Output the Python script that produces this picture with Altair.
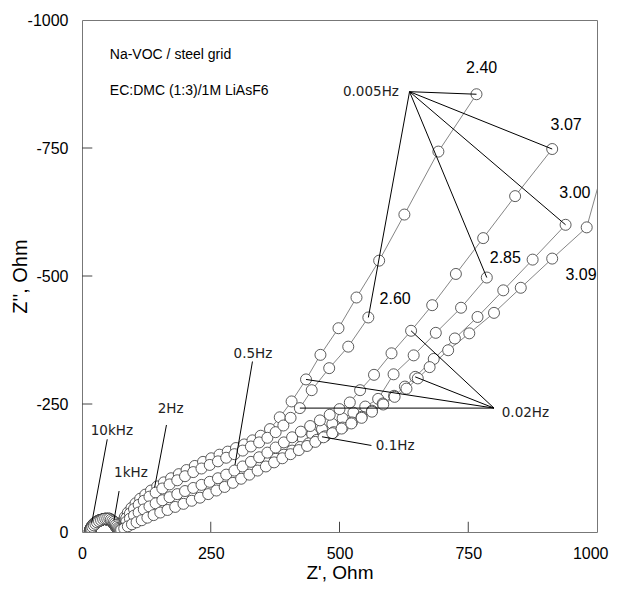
import altair as alt
import pandas as pd

# ---------------- data ----------------
SERIES = ["2.40", "2.60", "2.85", "3.00", "3.07", "3.09"]

# high-frequency arcs (10 kHz ... 1 kHz), two slightly different traces
HF_A_ZR = [15, 16, 17, 19, 21, 24, 27, 30, 34, 38, 42, 46, 50, 54, 57, 60, 62, 64, 66, 68, 70, 72]
HF_A_ZIM = [-2, -5, -8, -11, -14, -17, -19, -21, -23, -24, -25, -25, -24, -23, -21, -19, -16, -13, -10,
            -8, -6, -5]
HF_B_ZR = [16, 17, 18, 20, 23, 26, 29, 33, 37, 41, 45, 49, 53, 56, 59, 62, 64, 66, 68, 70, 72, 74]
HF_B_ZIM = [-1, -4, -7, -10, -13, -16, -19, -21, -23, -25, -26, -26, -26, -24, -22, -20, -17, -14, -11,
            -8, -6, -4]

ZR_240 = [74, 78, 83, 89, 96, 104, 113, 123, 134, 146, 159, 173, 188, 203, 219, 235, 251, 267, 283, 299,
          315, 331, 347, 365, 384, 407, 435, 463, 498, 533, 577, 626, 692, 766]
ZIM_240 = [-12, -20, -29, -38, -47, -56, -65, -73, -81, -89, -97, -105, -113, -121, -129, -137, -144, -151,
           -157, -164, -171, -179, -188, -201, -224, -255, -298, -346, -398, -458, -530, -620, -743, -855]

ZR_260 = [75, 80, 86, 93, 101, 110, 120, 131, 143, 156, 170, 185, 200, 216, 232, 248, 264, 280, 296, 312,
          328, 344, 360, 376, 391, 405, 423, 446, 480, 517, 556]
ZIM_260 = [-10, -18, -27, -36, -45, -53, -61, -69, -77, -85, -93, -101, -109, -117, -124, -131, -138, -145,
           -152, -159, -167, -175, -184, -195, -208, -223, -242, -277, -320, -362, -419]

ZR_285 = [75, 80, 86, 93, 101, 110, 120, 131, 143, 156, 170, 185, 200, 216, 232, 248, 264, 280, 296, 312,
          328, 344, 360, 377, 394, 411, 429, 447, 466, 486, 506, 527, 550, 575, 605, 644, 687, 736, 786]
ZIM_285 = [-6, -11, -16, -21, -26, -31, -36, -42, -48, -54, -60, -66, -72, -78, -84, -90, -97, -104, -112,
           -120, -128, -137, -146, -155, -164, -173, -182, -191, -201, -211, -222, -233, -245, -260, -308,
           -345, -389, -438, -497]

ZR_300 = [75, 80, 86, 93, 101, 110, 120, 131, 143, 156, 170, 185, 200, 216, 232, 248, 264, 280, 296, 312,
          328, 344, 360, 376, 392, 408, 424, 440, 456, 472, 489, 506, 524, 543, 563, 584, 606, 627, 647,
          683, 724, 768, 818, 875, 939]
ZIM_300 = [-5, -9, -13, -18, -23, -28, -33, -38, -43, -48, -54, -60, -66, -72, -78, -84, -90, -97, -104,
           -111, -119, -127, -135, -143, -151, -159, -166, -173, -180, -187, -195, -204, -214, -225, -237,
           -251, -266, -284, -303, -338, -378, -420, -472, -532, -600]

ZR_307 = [75, 80, 86, 93, 101, 110, 120, 131, 143, 156, 170, 185, 200, 216, 232, 248, 264, 280, 296, 312,
          328, 344, 360, 376, 392, 408, 425, 443, 462, 481, 500, 520, 540, 567, 601, 639, 680, 726, 779,
          841, 913]
ZIM_307 = [-8, -14, -20, -26, -32, -38, -44, -50, -56, -62, -68, -74, -80, -86, -92, -98, -105, -112, -120,
           -128, -137, -146, -155, -165, -175, -185, -196, -207, -218, -229, -240, -253, -277, -307, -349,
           -393, -443, -504, -574, -656, -748]

ZR_309 = [76, 82, 89, 97, 106, 116, 127, 139, 152, 166, 181, 197, 213, 229, 245, 261, 277, 293, 309, 325,
          341, 357, 373, 389, 405, 421, 437, 453, 469, 486, 504, 523, 543, 563, 585, 607, 630, 652, 675,
          711, 752, 800, 852, 913, 980, 1020]
ZIM_309 = [-4, -7, -11, -15, -19, -23, -28, -33, -38, -43, -49, -55, -61, -67, -74, -81, -88, -96, -104,
           -112, -120, -128, -136, -144, -152, -160, -168, -176, -185, -193, -202, -212, -223, -235, -249,
           -264, -280, -300, -322, -355, -388, -428, -477, -534, -595, -740]

# series labels
LABEL_TEXT = ["2.40", "3.07", "3.00", "2.85", "3.09", "2.60"]
LABEL_ZR = [776, 940, 957, 822, 969, 608]
LABEL_ZIM = [-906, -795, -663, -535, -502, -456]

# frequency labels
FREQ_TEXT = ["0.005Hz", "0.02Hz", "0.1Hz", "0.5Hz", "2Hz", "1kHz", "10kHz"]
FREQ_ZR = [561, 861, 608, 332, 172, 95, 58]
FREQ_ZIM = [-860, -232, -167, -348, -240, -116, -198]

# leader lines (from label to point)
LEAD_ZR = [636, 636, 636, 636, 636, 800, 800, 800, 800, 562, 331, 164, 72, 49]
LEAD_ZIM = [-860, -860, -860, -860, -860, -242, -242, -242, -242, -169, -333, -209, -80, -181]
LEAD_ZR2 = [766, 913, 939, 786, 556, 639, 647, 435, 423, 466, 297, 141, 62, 19]
LEAD_ZIM2 = [-855, -748, -600, -497, -419, -393, -303, -298, -242, -186, -131, -87, -22, -18]

# annotations
NOTE_TEXT = ["Na-VOC / steel grid", "EC:DMC (1:3)/1M LiAsF6"]
NOTE_ZR = [54, 54]
NOTE_ZIM = [-932, -862]

X_TICKS = [250, 500, 750]
Y_TICKS = [-250, -500, -750]
TICK_LEN = 20

# ---------------- tables ----------------
rows = []
for name, hz, hy, zr, zim in zip(
        SERIES,
        [HF_A_ZR, HF_B_ZR, HF_A_ZR, HF_B_ZR, HF_A_ZR, HF_B_ZR],
        [HF_A_ZIM, HF_B_ZIM, HF_A_ZIM, HF_B_ZIM, HF_A_ZIM, HF_B_ZIM],
        [ZR_240, ZR_260, ZR_285, ZR_300, ZR_307, ZR_309],
        [ZIM_240, ZIM_260, ZIM_285, ZIM_300, ZIM_307, ZIM_309]):
    xs = hz + zr
    ys = hy + zim
    for i, (a, b) in enumerate(zip(xs, ys)):
        rows.append({"series": name, "i": i, "zr": a, "zim": b})
pts = pd.DataFrame(rows)

labels = pd.DataFrame({"t": LABEL_TEXT, "zr": LABEL_ZR, "zim": LABEL_ZIM})
freqs = pd.DataFrame({"t": FREQ_TEXT, "zr": FREQ_ZR, "zim": FREQ_ZIM})
leads = pd.DataFrame({"zr": LEAD_ZR, "zim": LEAD_ZIM, "zr2": LEAD_ZR2, "zim2": LEAD_ZIM2})
notes = pd.DataFrame({"t": NOTE_TEXT, "zr": NOTE_ZR, "zim": NOTE_ZIM})
xt = pd.DataFrame({"v": X_TICKS, "a": [0] * 3, "b": [-TICK_LEN] * 3})
yt = pd.DataFrame({"v": Y_TICKS, "a": [0] * 3, "b": [TICK_LEN] * 3})

xscale = alt.Scale(domain=[0, 1000], nice=False, zero=False)
yscale = alt.Scale(domain=[-1000, 0], nice=False, zero=False, reverse=True)

FONT = "Liberation Sans"

xaxis = alt.Axis(values=[0, 250, 500, 750, 1000], ticks=False, domain=False, grid=False,
                 labelFont=FONT, labelFontSize=16, labelColor="black", labelPadding=13,
                 labelFlush=False, labelOverlap=False, format="d",
                 labelAlign=alt.ExprRef(expr="datum.value == 1000 ? 'right' : 'center'"),
                 labelOffset=alt.ExprRef(expr="datum.value == 1000 ? 11 : 0"),
                 title="Z', Ohm", titleFont=FONT, titleFontSize=19, titleFontWeight="normal",
                 titleColor="black", titleX=257.5, titleY=40, titleBaseline="middle")
yaxis = alt.Axis(values=[-1000, -750, -500, -250, 0], ticks=False, domain=False, grid=False,
                 labelFont=FONT, labelFontSize=16, labelColor="black", labelPadding=14,
                 labelFlush=False, labelOverlap=False,
                 labelExpr="datum.value == 0 ? '0' : '-' + format(abs(datum.value), 'd')",
                 title="Z'', Ohm", titleFont=FONT, titleFontSize=20, titleFontWeight="normal",
                 titleColor="black", titleX=-62, titleY=256, titleBaseline="middle", titleAngle=270)

X = alt.X("zr:Q", scale=xscale, axis=xaxis)
Y = alt.Y("zim:Q", scale=yscale, axis=yaxis)

lines = alt.Chart(pts).mark_line(clip=True, color="#666", strokeWidth=0.8).encode(
    x=X, y=Y, detail="series:N", order="i:Q")
circles = alt.Chart(pts).mark_circle(clip=True, fill="white", stroke="#333", strokeWidth=0.8,
                                     size=121, opacity=1).encode(
    x=alt.X("zr:Q", scale=xscale), y=alt.Y("zim:Q", scale=yscale), detail="series:N")

lead = alt.Chart(leads).mark_rule(color="black", strokeWidth=1).encode(
    x=alt.X("zr:Q", scale=xscale), y=alt.Y("zim:Q", scale=yscale), x2="zr2:Q", y2="zim2:Q")

xticks = alt.Chart(xt).mark_rule(color="#444", strokeWidth=1).encode(
    x=alt.X("v:Q", scale=xscale), y=alt.Y("a:Q", scale=yscale), y2="b:Q")
yticks = alt.Chart(yt).mark_rule(color="#444", strokeWidth=1).encode(
    y=alt.Y("v:Q", scale=yscale), x=alt.X("a:Q", scale=xscale), x2="b:Q")

label_txt = alt.Chart(labels).mark_text(font=FONT, fontSize=16, color="black").encode(
    x=alt.X("zr:Q", scale=xscale), y=alt.Y("zim:Q", scale=yscale), text="t:N")
freq_txt = alt.Chart(freqs).mark_text(font="DejaVu Sans", fontSize=13.5, color="#222").encode(
    x=alt.X("zr:Q", scale=xscale), y=alt.Y("zim:Q", scale=yscale), text="t:N")
note_txt = alt.Chart(notes).mark_text(font=FONT, fontSize=14, color="black", align="left").encode(
    x=alt.X("zr:Q", scale=xscale), y=alt.Y("zim:Q", scale=yscale), text="t:N")

chart = alt.layer(lines, circles, lead, xticks, yticks, label_txt, freq_txt, note_txt).properties(
    width=515, height=512,
    autosize=alt.AutoSizeParams(type="none"),
    padding={"left": 74, "top": 12, "right": 12, "bottom": 50},
).configure_view(stroke="#777", strokeWidth=1)

chart.save("out.html", embed_options={"renderer": "svg", "actions": False})
